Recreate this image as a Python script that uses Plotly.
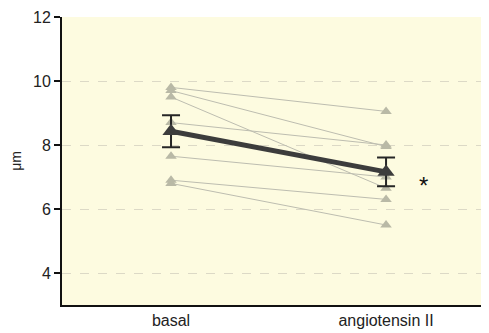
import plotly.graph_objects as go

categories = ["basal", "angiotensin II"]
basal = [9.8, 9.7, 9.5, 8.7, 7.65, 6.9, 6.8]
angiotensin = [9.05, 7.95, 6.65, 8.0, 7.0, 6.3, 5.5]
mean_values = [8.43, 7.16]
sem_values = [0.5, 0.45]
y_ticks = [4, 6, 8, 10, 12]
y_label = "μm"
sig_label = "*"

FONT = "Liberation Sans, Arial, sans-serif"
fig = go.Figure()

xpos = [0, 1]
for b, a in zip(basal, angiotensin):
    fig.add_trace(go.Scatter(
        x=xpos, y=[b, a], mode="lines+markers",
        line=dict(color="#bdbdb0", width=1),
        marker=dict(symbol="triangle-up", size=10, color="#b9b9a6"),
        showlegend=False, hoverinfo="skip"))

fig.add_trace(go.Scatter(
    x=xpos, y=mean_values, mode="lines+markers",
    line=dict(color="#3c3c3c", width=5),
    marker=dict(symbol="triangle-up", size=15, color="#3c3c3c"),
    error_y=dict(type="data", array=sem_values, visible=True,
                 color="#262626", thickness=2, width=9),
    showlegend=False, hoverinfo="skip"))

fig.add_annotation(x=1.176, y=6.72, text=sig_label, showarrow=False,
                   font=dict(family=FONT, size=24, color="#111"))

fig.update_layout(
    width=489, height=325,
    margin=dict(l=54, r=0, t=9, b=28),
    paper_bgcolor="white", plot_bgcolor="#fdfbe0",
    font=dict(family=FONT, size=16, color="#222"),
    xaxis=dict(range=[-0.507, 1.516], tickvals=xpos, ticktext=categories,
               showgrid=False, zeroline=False, showline=True,
               linecolor="#111", linewidth=2, ticks="", ticklen=0,
               tickfont=dict(size=16, color="#222")),
    yaxis=dict(range=[3, 12], tickvals=y_ticks, showgrid=True,
               gridcolor="#dcd9c6", griddash="dash", gridwidth=1,
               zeroline=False, showline=True, linecolor="#111", linewidth=2,
               ticks="outside", ticklen=6, tickwidth=2, tickcolor="#111",
               tickfont=dict(size=16, color="#222"),
               title=dict(text=y_label, font=dict(size=14, color="#222"), standoff=14)),
)

fig.write_html("out.html")
